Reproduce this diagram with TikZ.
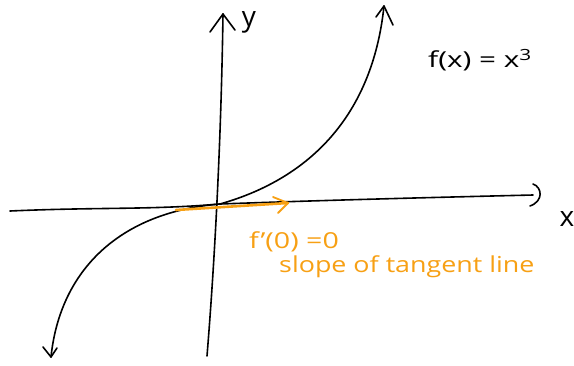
\documentclass[tikz,border=0pt]{standalone}
\usepackage{fontspec}
\setmainfont{Open Sans}
\definecolor{tanorange}{RGB}{247,160,20}
\begin{document}
\begin{tikzpicture}[x=1pt,y=-1pt,
  ink/.style={draw=black,line width=1.6pt,line cap=round,line join=round},
  tan/.style={draw=tanorange,line width=2.6pt,line cap=round,line join=round},
  lbl/.style={inner sep=0pt,font=\fontsize{28}{30}\selectfont},
  olbl/.style={inner sep=0pt,text=tanorange,font=\fontsize{22}{24}\selectfont,anchor=west}]
\useasboundingbox (0,0) rectangle (574,365);
% key points
\coordinate (ybot) at (207,356);
\coordinate (ytop) at (223,14);
\coordinate (xl) at (10,211);
\coordinate (xr) at (533,195);
\coordinate (o) at (220,204);
\coordinate (cb) at (51,357);
\coordinate (ct) at (384,6);
% y axis
\draw[ink] (ybot) .. controls (214,270) and (221,150) .. (ytop);
\draw[ink] (210,32) -- (ytop) -- (235,30);
% x axis
\draw[ink] (xl) .. controls (100,207) and (150,210) .. (o) .. controls (330,200) and (450,197) .. (xr);
\draw[ink] (533,184) .. controls (542,187) and (544,201) .. (530,206);
% cubic curve
\draw[ink] (cb) .. controls (60,270) and (120,212) .. (o) .. controls (305,180) and (372,120) .. (ct);
\draw[ink] (43,347) -- (cb) -- (57,348);
\draw[ink] (376,17) -- (ct) -- (393,25);
% tangent line
\draw[tan] (176,210) -- (288,203);
\draw[tanorange,line width=1.8pt,line cap=round,line join=round] (273,197) -- (288,203) -- (278,213);
% labels
\node[lbl] (ylab) at (249,22) {y};
\node[lbl] (xlab) at (567,219) {x};
\node[inner sep=0pt,anchor=west,font=\fontsize{22}{24}\selectfont] (flab) at (428,60) {\scalebox{1.35}[1]{f(x) = x\textsuperscript{3}}};
\node[olbl] (dlab) at (249,242) {\scalebox{1.3}[1]{f'(0) =0}};
\node[olbl] (slab) at (279,267) {\scalebox{1.22}[1]{slope of tangent line}};
\end{tikzpicture}
\end{document}
